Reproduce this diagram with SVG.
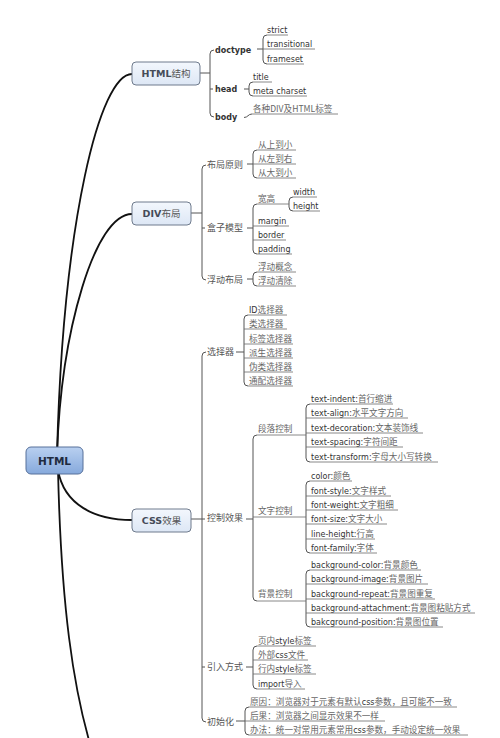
<svg xmlns="http://www.w3.org/2000/svg" width="500" height="738" viewBox="0 0 500 738">
<defs>
<linearGradient id="gn" x1="0" y1="0" x2="0" y2="1"><stop offset="0" stop-color="#f3f7fd"/><stop offset="1" stop-color="#dde7f5"/></linearGradient>
<linearGradient id="gr" x1="0" y1="0" x2="0" y2="1"><stop offset="0" stop-color="#b9d0f0"/><stop offset="1" stop-color="#86a9dc"/></linearGradient>
</defs>
<style>
.main{fill:none;stroke:#111;stroke-width:1.8}
.br{fill:none;stroke:#555;stroke-width:1}
.ul{fill:none;stroke:#6a6a6a;stroke-width:0.8}
.t{font-family:"DejaVu Sans","Noto Sans CJK SC",sans-serif;font-size:8px;fill:#333}
.c{font-family:"Noto Sans CJK SC",sans-serif;font-size:8.6px;fill:#666}
.m{font-family:"Noto Sans CJK SC",sans-serif;font-size:9px;fill:#555}
.b{font-family:"DejaVu Sans",sans-serif;font-size:8px;font-weight:bold;fill:#333}
.nt{font-family:"DejaVu Sans","Noto Sans CJK SC",sans-serif;font-size:9.5px;font-weight:bold;fill:#454b58;text-anchor:middle}
.nc{font-weight:normal;fill:#555}
.nb{fill:url(#gn);stroke:#6f7b8d;stroke-width:1}
.rb{fill:url(#gr);stroke:#56709a;stroke-width:1}
.rt{font-family:"DejaVu Sans",sans-serif;font-size:10.5px;font-weight:bold;fill:#1f2b40;text-anchor:middle}
</style>
<rect width="500" height="738" fill="#fff"/>
<g id="connectors">
<path class="main" d="M57,455 C63,220 100,74 132,74"/>
<path class="main" d="M57,455 C61,330 95,214 132,214"/>
<path class="main" d="M58,470 C64,505 95,520 132,520"/>
<path class="main" d="M58,470 C61,600 72,690 95,760"/>
<path class="br" d="M200,73 H210 M214,50 Q210,50 210,54 V113 Q210,117 214,117 M210,89 H213"/>
<path class="br" d="M267,35 Q263,35 263,39 V60 Q263,64 267,64 M257,49 H263"/>
<path class="br" d="M253,82 Q249,82 249,86 V92 Q249,96 253,96 M244,89 H249"/>
<path class="br" d="M244,117.5 C248,117.5 248,114 252,114"/>
<path class="br" d="M191,213 H202 M206,165 Q202,165 202,169 V276 Q202,280 206,280 M202,228 H205"/>
<path class="br" d="M257,150 Q253,150 253,154 V174 Q253,178 257,178 M247,164 H253"/>
<path class="br" d="M257,204 Q253,204 253,208 V250 Q253,254 257,254 M247,228 H253"/>
<path class="br" d="M293,197 Q289,197 289,201 V207 Q289,211 293,211"/>
<path class="br" d="M257,272 Q253,272 253,276 V282 Q253,286 257,286 M247,279 H253"/>
<path class="br" d="M191,519 H205 M206,352 Q202,352 202,356 V718 Q202,722 206,722 M202,667 H205"/>
<path class="br" d="M248,315 Q244,315 244,319 V382 Q244,386 248,386 M236,352 H244"/>
<path class="br" d="M257,435 Q253,435 253,439 V597 Q253,601 257,601 M246,519 H253"/>
<path class="br" d="M310,404 Q306,404 306,408 V458 Q306,462 310,462"/>
<path class="br" d="M310,481 Q306,481 306,485 V549 Q306,553 310,553"/>
<path class="br" d="M310,570 Q306,570 306,574 V623 Q306,627 310,627"/>
<path class="br" d="M257,646 Q253,646 253,650 V685 Q253,689 257,689 M246,667 H253"/>
<path class="br" d="M249,707 Q245,707 245,711 V731 Q245,735 249,735 M236,721 H245"/>
</g>
<g id="n-html"><rect class="rb" x="26" y="447" width="57" height="27" rx="5"/><text class="rt" x="54.5" y="465">HTML</text></g>
<g id="n-struct"><rect class="nb" x="132" y="62" width="68" height="23" rx="4"/><text class="nt" x="166" y="77">HTML<tspan class="nc">结构</tspan></text></g>
<g id="n-div"><rect class="nb" x="132" y="202" width="59" height="23" rx="4"/><text class="nt" x="161.5" y="217">DIV<tspan class="nc">布局</tspan></text></g>
<g id="n-css"><rect class="nb" x="132" y="509" width="59" height="23" rx="4"/><text class="nt" x="161.5" y="524">CSS<tspan class="nc">效果</tspan></text></g>

<g id="n-doctype"><text class="b" x="215" y="53">doctype</text></g>
<g id="n-head"><text class="b" x="215" y="92">head</text></g>
<g id="n-body"><text class="b" x="215" y="120">body</text></g>
<g id="n-strict"><text class="t" x="267" y="33">strict</text><path class="ul" d="M267,35 H288"/></g>
<g id="n-transitional"><text class="t" x="267" y="47">transitional</text><path class="ul" d="M263,49 H315"/></g>
<g id="n-frameset"><text class="t" x="267" y="62">frameset</text><path class="ul" d="M267,64 H304"/></g>
<g id="n-title"><text class="t" x="253" y="80">title</text><path class="ul" d="M253,82 H272"/></g>
<g id="n-meta"><text class="t" x="253" y="94">meta charset</text><path class="ul" d="M253,96 H307"/></g>
<g id="n-tags"><text class="c" x="253" y="112">各种DIV及HTML标签</text><path class="ul" d="M252,114 H338"/></g>

<g id="n-rule"><text class="m" x="207" y="168">布局原则</text></g>
<g id="n-box"><text class="m" x="207" y="231">盒子模型</text></g>
<g id="n-float"><text class="m" x="207" y="283">浮动布局</text></g>
<g id="n-r1"><text class="c" x="258" y="148">从上到小</text><path class="ul" d="M257,150 H296"/></g>
<g id="n-r2"><text class="c" x="258" y="162">从左到右</text><path class="ul" d="M253,164 H296"/></g>
<g id="n-r3"><text class="c" x="258" y="176">从大到小</text><path class="ul" d="M257,178 H296"/></g>
<g id="n-wh"><text class="c" x="258" y="202">宽高</text><path class="ul" d="M257,204 H289"/></g>
<g id="n-width"><text class="t" x="293" y="195">width</text><path class="ul" d="M293,197 H317"/></g>
<g id="n-height"><text class="t" x="293" y="209">height</text><path class="ul" d="M293,211 H320"/></g>
<g id="n-margin"><text class="t" x="258" y="224">margin</text><path class="ul" d="M253,226 H289"/></g>
<g id="n-border"><text class="t" x="258" y="238">border</text><path class="ul" d="M253,240 H286"/></g>
<g id="n-padding"><text class="t" x="258" y="252">padding</text><path class="ul" d="M257,254 H292"/></g>
<g id="n-f1"><text class="c" x="258" y="270">浮动概念</text><path class="ul" d="M257,272 H296"/></g>
<g id="n-f2"><text class="c" x="258" y="284">浮动清除</text><path class="ul" d="M257,286 H296"/></g>

<g id="n-sel"><text class="m" x="207" y="355">选择器</text></g>
<g id="n-ctrl"><text class="m" x="207" y="521">控制效果</text></g>
<g id="n-import"><text class="m" x="207" y="670">引入方式</text></g>
<g id="n-init"><text class="m" x="207" y="725">初始化</text></g>

<g id="n-s1"><text class="t" x="249" y="313">ID<tspan class="c">选择器</tspan></text><path class="ul" d="M248,315 H287"/></g>
<g id="n-s2"><text class="c" x="249" y="327">类选择器</text><path class="ul" d="M244,329 H287"/></g>
<g id="n-s3"><text class="c" x="249" y="342">标签选择器</text><path class="ul" d="M244,344 H293"/></g>
<g id="n-s4"><text class="c" x="249" y="356">派生选择器</text><path class="ul" d="M244,358 H293"/></g>
<g id="n-s5"><text class="c" x="249" y="370">伪类选择器</text><path class="ul" d="M244,372 H293"/></g>
<g id="n-s6"><text class="c" x="249" y="384">通配选择器</text><path class="ul" d="M248,386 H293"/></g>

<g id="n-para"><text class="c" x="258" y="432">段落控制</text><path class="ul" d="M257,435 H306"/></g>
<g id="n-text"><text class="c" x="258" y="514">文字控制</text><path class="ul" d="M253,517 H306"/></g>
<g id="n-bg"><text class="c" x="258" y="597">背景控制</text><path class="ul" d="M257,601 H306"/></g>

<g id="n-p1"><text class="t" x="311" y="402">text-indent:<tspan class="c">首行缩进</tspan></text><path class="ul" d="M310,404 H393"/></g>
<g id="n-p2"><text class="t" x="311" y="416">text-align:<tspan class="c">水平文字方向</tspan></text><path class="ul" d="M306,418 H408"/></g>
<g id="n-p3"><text class="t" x="311" y="431">text-decoration:<tspan class="c">文本装饰线</tspan></text><path class="ul" d="M306,433 H423"/></g>
<g id="n-p4"><text class="t" x="311" y="445">text-spacing:<tspan class="c">字符间距</tspan></text><path class="ul" d="M306,447 H403"/></g>
<g id="n-p5"><text class="t" x="311" y="460">text-transform:<tspan class="c">字母大小写转换</tspan></text><path class="ul" d="M310,462 H438"/></g>

<g id="n-t1"><text class="t" x="311" y="479">color:<tspan class="c">颜色</tspan></text><path class="ul" d="M310,481 H352"/></g>
<g id="n-t2"><text class="t" x="311" y="494">font-style:<tspan class="c">文字样式</tspan></text><path class="ul" d="M306,496 H391"/></g>
<g id="n-t3"><text class="t" x="311" y="508">font-weight:<tspan class="c">文字粗细</tspan></text><path class="ul" d="M306,510 H398"/></g>
<g id="n-t4"><text class="t" x="311" y="522">font-size:<tspan class="c">文字大小</tspan></text><path class="ul" d="M306,524 H387"/></g>
<g id="n-t5"><text class="t" x="311" y="537">line-height:<tspan class="c">行高</tspan></text><path class="ul" d="M306,539 H375"/></g>
<g id="n-t6"><text class="t" x="311" y="551">font-family:<tspan class="c">字体</tspan></text><path class="ul" d="M310,553 H377"/></g>

<g id="n-b1"><text class="t" x="311" y="568">background-color:<tspan class="c">背景颜色</tspan></text><path class="ul" d="M310,570 H421"/></g>
<g id="n-b2"><text class="t" x="311" y="582">background-image:<tspan class="c">背景图片</tspan></text><path class="ul" d="M306,584 H428"/></g>
<g id="n-b3"><text class="t" x="311" y="597">background-repeat:<tspan class="c">背景图重复</tspan></text><path class="ul" d="M306,599 H435"/></g>
<g id="n-b4"><text class="t" x="311" y="611">background-attachment:<tspan class="c">背景图粘贴方式</tspan></text><path class="ul" d="M306,613 H475"/></g>
<g id="n-b5"><text class="t" x="311" y="625">bakcground-position:<tspan class="c">背景图位置</tspan></text><path class="ul" d="M310,627 H443"/></g>

<g id="n-i1"><text class="t" x="258" y="644"><tspan class="c">页内</tspan>style<tspan class="c">标签</tspan></text><path class="ul" d="M257,646 H316"/></g>
<g id="n-i2"><text class="t" x="258" y="658"><tspan class="c">外部</tspan>css<tspan class="c">文件</tspan></text><path class="ul" d="M253,660 H308"/></g>
<g id="n-i3"><text class="t" x="258" y="672"><tspan class="c">行内</tspan>style<tspan class="c">标签</tspan></text><path class="ul" d="M253,674 H316"/></g>
<g id="n-i4"><text class="t" x="258" y="687">import<tspan class="c">导入</tspan></text><path class="ul" d="M257,689 H305"/></g>

<g id="n-z1"><text class="t" x="250" y="705"><tspan class="c">原因：浏览器对于元素有默认</tspan>css<tspan class="c">参数，且可能不一致</tspan></text><path class="ul" d="M249,707 H457"/></g>
<g id="n-z2"><text class="c" x="250" y="719">后果：浏览器之间显示效果不一样</text><path class="ul" d="M245,721 H385"/></g>
<g id="n-z3"><text class="t" x="250" y="733"><tspan class="c">办法：统一对常用元素常用</tspan>css<tspan class="c">参数，手动设定统一效果</tspan></text><path class="ul" d="M249,735 H468"/></g>
</svg>
